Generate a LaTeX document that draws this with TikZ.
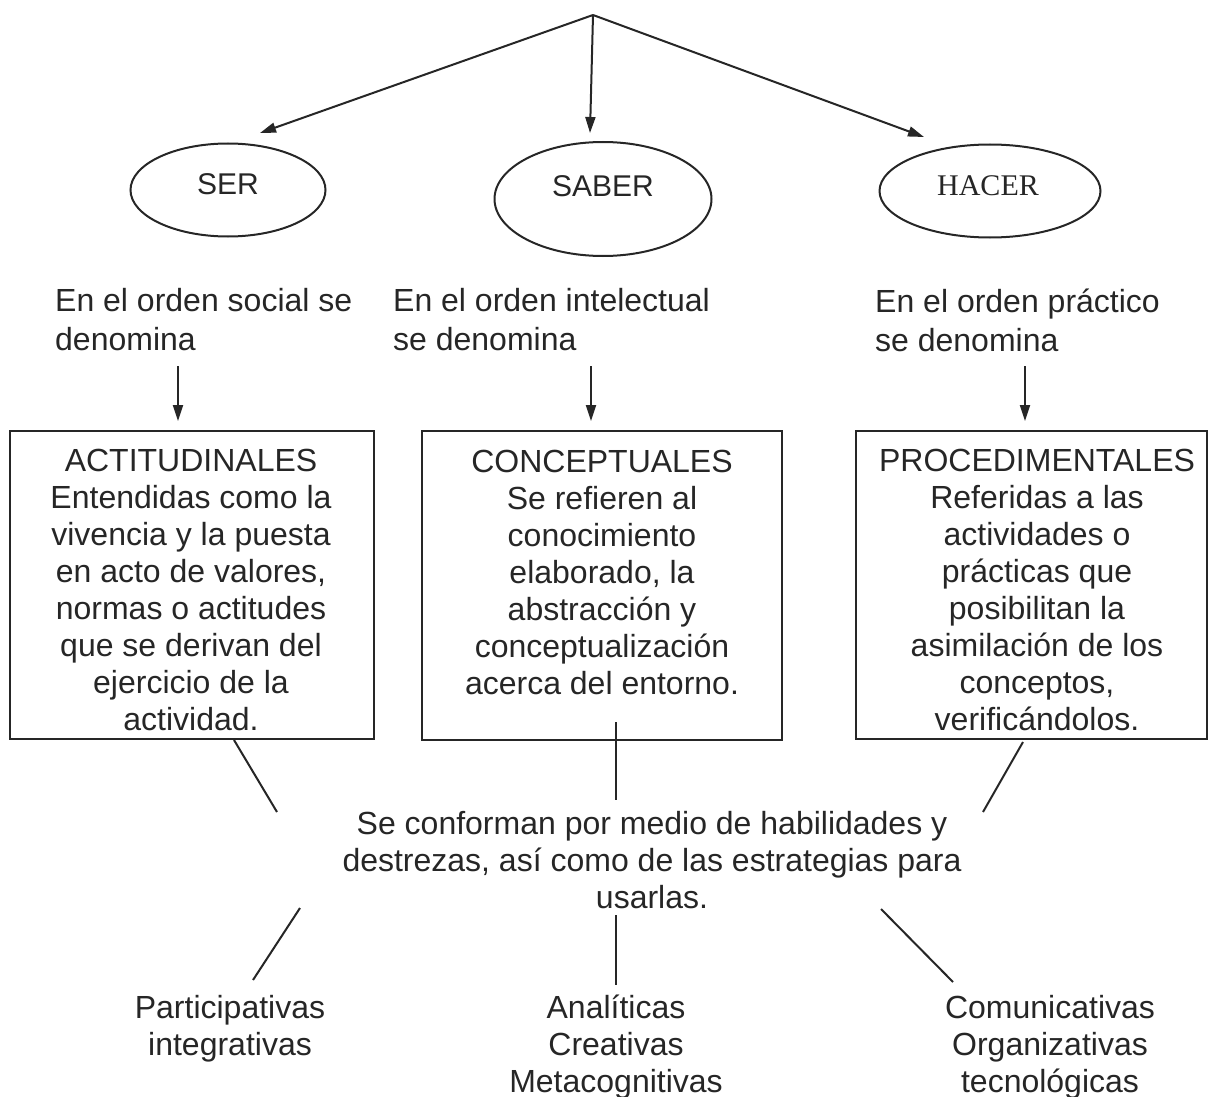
\documentclass[tikz,border=0pt]{standalone}
\usepackage{fontspec}
\setmainfont{Liberation Sans}
\newfontfamily\timesfont{Liberation Serif}
\usetikzlibrary{arrows.meta,shapes.geometric}
\begin{document}
\begin{tikzpicture}[x=1pt,y=-1pt,
  line/.style={line width=2pt,draw=black!85},
  arr/.style={line, -{Triangle[length=16pt,width=10pt]}},
  oval/.style={ellipse, draw=black!85, line width=2pt, inner sep=0pt},
  boxed/.style={draw=black!85, line width=2pt, inner sep=0pt},
  txt/.style={font=\fontsize{32}{37}\selectfont, align=center, inner sep=0pt, text=black!85},
  ltxt/.style={font=\fontsize{32}{39}\selectfont, align=left, inner sep=0pt, anchor=west, text=black!85},
  otxt/.style={font=\fontsize{30}{34}\selectfont, inner sep=0pt, text=black!85}
]
\useasboundingbox (0,0) rectangle (1210,1097);

% apex and arrow tips
\coordinate (apex) at (593,15);
\coordinate (t1) at (260,133);
\coordinate (t2) at (590,133);
\coordinate (t3) at (924,137);
\draw[arr] (apex) -- (t1);
\draw[arr] (apex) -- (t2);
\draw[arr] (apex) -- (t3);

% ellipses
\node[oval, minimum width=195pt, minimum height=93pt] (ser) at (228,190) {};
\node[otxt] (serl) at (228,184) {SER};
\node[oval, minimum width=217pt, minimum height=114pt] (saber) at (603,199) {};
\node[otxt] (saberl) at (603,186) {SABER};
\node[oval, minimum width=221pt, minimum height=93pt] (hacer) at (990,191) {};
\node[otxt, font=\timesfont\fontsize{30}{34}\selectfont] (hacerl) at (988,186) {HACER};

% orden texts
\node[ltxt] (o1) at (55,320) {En el orden social se\\denomina};
\node[ltxt] (o2) at (393,320) {En el orden intelectual\\se denomina};
\node[ltxt] (o3) at (875,320) {En el orden práctico\\se denomina};

% down arrows
\coordinate (d1a) at (178,366); \coordinate (d1b) at (178,421);
\coordinate (d2a) at (591,366); \coordinate (d2b) at (591,421);
\coordinate (d3a) at (1025,366); \coordinate (d3b) at (1025,421);
\draw[arr] (d1a) -- (d1b);
\draw[arr] (d2a) -- (d2b);
\draw[arr] (d3a) -- (d3b);

% boxes
\draw[boxed] (10,431) rectangle (374,739);
\draw[boxed] (422,431) rectangle (782,740);
\draw[boxed] (856,431) rectangle (1207,739);

\node[txt] (b1) at (191,590) {ACTITUDINALES\\Entendidas como la\\vivencia y la puesta\\en acto de valores,\\normas o actitudes\\que se derivan del\\ejercicio de la\\actividad.};
\node[txt] (b2) at (602,572) {CONCEPTUALES\\Se refieren al\\conocimiento\\elaborado, la\\abstracción y\\conceptualización\\acerca del entorno.};
\node[txt] (b3) at (1037,590) {PROCEDIMENTALES\\Referidas a las\\actividades o\\prácticas que\\posibilitan la\\asimilación de los\\conceptos,\\verificándolos.};

% center text
\node[txt] (mid) at (652,860) {Se conforman por medio de habilidades y\\destrezas, así como de las estrategias para\\usarlas.};

% upper connectors
\coordinate (u1a) at (234,740); \coordinate (u1b) at (277,812);
\coordinate (u2a) at (616,722); \coordinate (u2b) at (616,800);
\coordinate (u3a) at (1023,742); \coordinate (u3b) at (983,812);
\draw[line] (u1a) -- (u1b);
\draw[line] (u2a) -- (u2b);
\draw[line] (u3a) -- (u3b);

% lower connectors
\coordinate (l1a) at (300,908); \coordinate (l1b) at (253,980);
\coordinate (l2a) at (616,915); \coordinate (l2b) at (616,985);
\coordinate (l3a) at (881,909); \coordinate (l3b) at (953,982);
\draw[line] (l1a) -- (l1b);
\draw[line] (l2a) -- (l2b);
\draw[line] (l3a) -- (l3b);

% bottom texts
\node[txt] (p1) at (230,1029) {Participativas\\integrativas};
\node[txt] (p2) at (616,1047) {Analíticas\\Creativas\\Metacognitivas};
\node[txt] (p3) at (1050,1047) {Comunicativas\\Organizativas\\tecnológicas};
\end{tikzpicture}
\end{document}
